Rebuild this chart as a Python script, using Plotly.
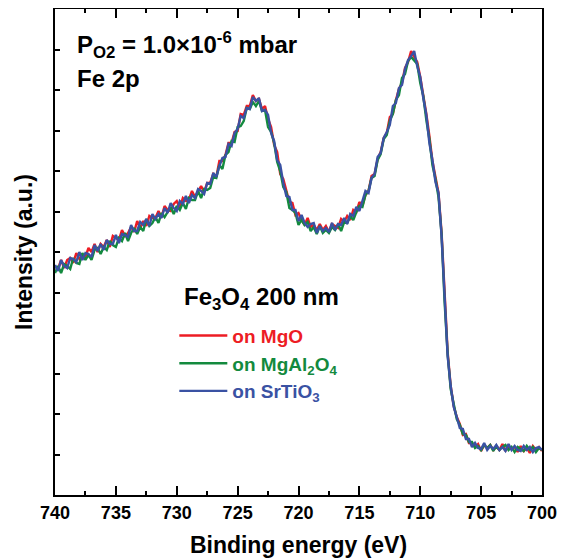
import plotly.graph_objects as go

# Binding energy grid: starts at 740 eV, step -0.25 eV (161 points, 740 -> 700)
energy_start = 740
energy_step = -0.25

# Intensities (arbitrary units)
on_mgo = [229,226,235,227,235,237,232,242,236,240,238,247,243,251,243,251,248,255,248,259,
          257,255,265,259,262,268,263,274,267,274,269,279,277,277,284,278,289,285,284,291,
          294,287,297,294,295,304,298,304,309,303,312,312,321,318,334,334,340,352,352,363,
          364,381,380,389,389,400,394,396,386,389,376,368,350,343,321,316,304,293,292,280,
          282,275,270,277,268,270,265,271,265,269,263,271,269,267,276,273,279,275,285,283,
          293,289,300,304,319,321,336,343,357,362,378,381,395,406,412,427,433,444,438,433,
          418,401,381,359,334,318,302,263,199,143,109,89,78,71,60,61,52,52,48,51,
          44,50,47,50,45,48,45,51,44,49,46,48,43,49,44,47,42,49,45,48,44]

on_mgal2o4 = [222,229,222,231,229,226,237,232,231,242,235,240,235,245,247,241,248,245,254,250,
              248,257,254,262,254,262,267,261,268,264,276,269,272,278,272,282,278,283,288,281,
              289,285,292,286,297,295,295,304,297,306,305,307,318,317,330,326,340,343,354,353,
              368,369,374,387,386,393,389,394,384,385,368,363,352,333,324,308,303,287,285,282,
              270,275,270,273,264,268,261,269,262,265,262,268,265,271,264,273,272,279,275,283,
              289,288,300,304,317,319,335,341,356,360,374,381,395,400,417,421,434,438,434,431,
              412,399,375,356,330,316,298,261,193,141,106,92,76,70,61,60,53,53,47,49,
              45,50,47,50,44,49,45,48,50,45,48,43,48,46,44,49,45,48,43,47,45]

on_srtio3 = [230,224,235,229,227,237,236,233,243,235,242,241,238,250,244,251,245,255,251,251,
             260,252,261,260,258,270,264,264,273,270,276,269,281,276,281,277,287,282,292,287,
             284,294,291,299,292,300,297,306,304,301,312,311,322,318,329,337,338,351,349,362,
             366,379,377,387,386,398,394,397,384,385,380,362,354,335,330,312,299,298,285,285,
             274,280,272,268,271,272,262,269,264,267,263,272,265,271,270,277,271,281,279,288,
             284,293,304,302,317,321,338,342,357,363,370,389,392,407,410,426,435,439,444,429,
             418,397,380,352,335,313,302,259,196,139,109,88,78,67,66,56,56,48,52,47,
             46,52,45,49,46,50,45,48,44,51,45,49,45,44,49,45,48,43,47,48,45]

series_names = ["on MgO", "on MgAl<sub>2</sub>O<sub>4</sub>", "on SrTiO<sub>3</sub>"]
series_colors = ["#ED1C24", "#138A3E", "#3A52A3"]
series_values = [on_mgo, on_mgal2o4, on_srtio3]

x_ticks = [740, 735, 730, 725, 720, 715, 710, 705, 700]

FONT = "Liberation Sans, Arial, Helvetica, sans-serif"

fig = go.Figure()
for name, color, vals in zip(series_names, series_colors, series_values):
    fig.add_trace(go.Scatter(
        x0=energy_start, dx=energy_step, y=vals, mode="lines",
        line=dict(color=color, width=2.4),
        name=f'<b><span style="color:{color}">{name}</span></b>',
    ))

# the page body adds an 8px offset, so the figure is shifted to line up with the window
fig.update_layout(
    width=553, height=551,
    margin=dict(l=47, r=19, t=1, b=64, autoexpand=False),
    paper_bgcolor="white", plot_bgcolor="white",
    font=dict(family=FONT, color="black"),
    showlegend=True,
    legend=dict(x=0.245, y=0.367, xanchor="left", yanchor="top",
                bgcolor="rgba(0,0,0,0)", font=dict(size=19, family=FONT),
                tracegroupgap=0, itemwidth=48),
    xaxis=dict(
        range=[740, 700], tickvals=x_ticks, ticktext=[f"<b>{t}</b>" for t in x_ticks],
        ticks="inside", ticklen=9, tickwidth=1.5, tickcolor="black",
        minor=dict(dtick=2.5, ticks="inside", ticklen=4, tickwidth=1.5, tickcolor="black"),
        showline=True, linewidth=2, linecolor="black", mirror="ticks",
        showgrid=False, zeroline=False, automargin=False,
        tickfont=dict(size=18, family=FONT),
        title=dict(text="<b>Binding energy (eV)</b>", font=dict(size=23, family=FONT), standoff=15),
    ),
    yaxis=dict(
        range=[0, 486], tick0=0, dtick=40.5, showticklabels=False,
        ticks="inside", ticklen=5, tickwidth=1.5, tickcolor="black",
        showline=True, linewidth=2, linecolor="black", mirror=True,
        showgrid=False, zeroline=False, automargin=False,
        title=dict(text="<b>Intensity (a.u.)</b>", font=dict(size=23, family=FONT), standoff=14),
    ),
    yaxis2=dict(
        range=[0, 486], tick0=0, dtick=40.5, showticklabels=False,
        overlaying="y", side="right", anchor="x",
        ticks="outside", ticklen=4, tickwidth=1.5, tickcolor="black",
        showline=False, showgrid=False, zeroline=False, automargin=False,
    ),
)

fig.add_annotation(
    text="<b>P<sub>O2</sub> = 1.0×10<sup>-6</sup> mbar</b>",
    xref="paper", yref="paper", x=0.041, y=0.925, xanchor="left", yanchor="middle",
    showarrow=False, font=dict(size=24, family=FONT, color="black"),
)
fig.add_annotation(
    text="<b>Fe 2p</b>",
    xref="paper", yref="paper", x=0.041, y=0.858, xanchor="left", yanchor="middle",
    showarrow=False, font=dict(size=24, family=FONT, color="black"),
)
fig.add_annotation(
    text="<b>Fe<sub>3</sub>O<sub>4</sub> 200 nm</b>",
    xref="paper", yref="paper", x=0.26, y=0.405, xanchor="left", yanchor="middle",
    showarrow=False, font=dict(size=24, family=FONT, color="black"),
)

fig.write_html("out.html")
